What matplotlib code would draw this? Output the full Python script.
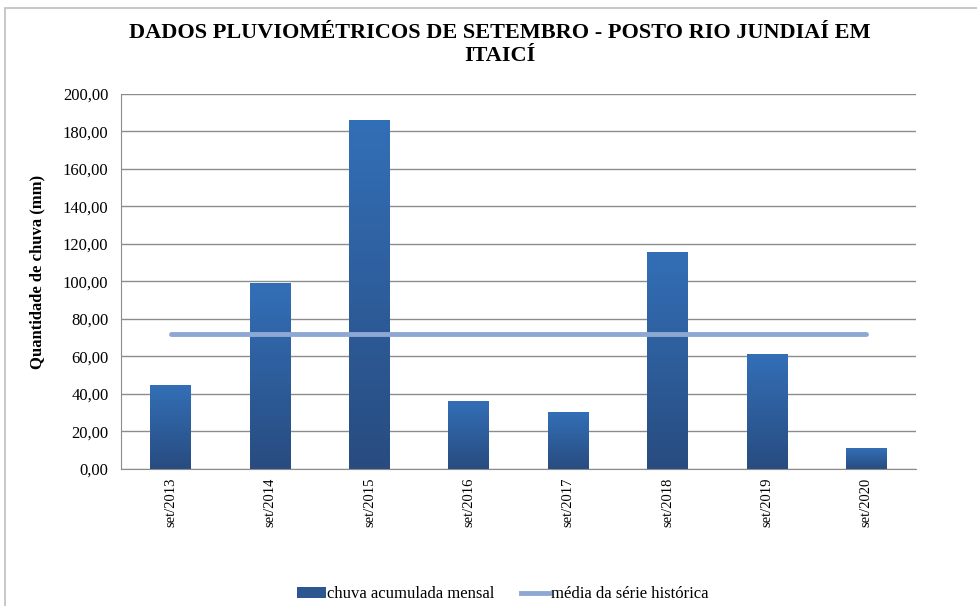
import numpy as np
import matplotlib.pyplot as plt
from matplotlib.patches import Rectangle
from matplotlib.lines import Line2D

plt.rcParams['font.family'] = ['Liberation Serif', 'DejaVu Serif']

# chuva acumulada em setembro (mm)
categorias = ['set/2013', 'set/2014', 'set/2015', 'set/2016',
              'set/2017', 'set/2018', 'set/2019', 'set/2020']
chuva = [44.8, 99.2, 186.1, 36.3, 30.4, 115.7, 61.3, 11.2]
media_historica = 71.8
yticks = np.arange(0, 201, 20)

fig = plt.figure(figsize=(9.77, 6.06), dpi=100)
ax = fig.add_axes([0.1238, 0.2261, 0.8137, 0.6188])

# outer chart frame (partly cropped in the original)
fig.patches.append(Rectangle((5 / 977, -0.1), 1.2, 1.1 - 8 / 606, transform=fig.transFigure,
                             fill=False, edgecolor='#bfbfbf', linewidth=1.2))

x = np.arange(len(categorias))
bars = ax.bar(x, chuva, width=0.41, color='#2f5f9e', zorder=2)

# vertical gradient like the Excel fill: darker at the bottom
grad = np.linspace(0, 1, 256).reshape(-1, 1)
cmap = plt.matplotlib.colors.LinearSegmentedColormap.from_list('g', ['#284c80', '#336fb7'])
for b in bars:
    b.set_facecolor('none')
    bx = b.get_x()
    im = ax.imshow(grad, cmap=cmap, origin='lower', aspect='auto', zorder=2,
                   extent=[bx, bx + b.get_width(), 0, b.get_height()])
    im.set_clip_path(b)

ax.plot([x[0], x[-1]], [media_historica, media_historica], color='#8ea8d4',
        linewidth=3.5, solid_capstyle='round', zorder=3)

ax.set_xlim(-0.5, len(categorias) - 0.5)
ax.set_ylim(0, 200)
ax.set_yticks(yticks)
ax.set_yticklabels([f'{v:.2f}'.replace('.', ',') for v in yticks], fontsize=12)
ax.set_xticks(x)
ax.set_xticklabels(categorias, rotation=90, fontsize=10.5)
ax.tick_params(axis='x', length=0, pad=6)
ax.tick_params(axis='y', length=0, pad=9)
ax.grid(axis='y', color='#8c8c8c', linewidth=1, zorder=0)
ax.set_axisbelow(True)
for s in ['top', 'right']:
    ax.spines[s].set_visible(False)
for s in ['left', 'bottom']:
    ax.spines[s].set_color('#8c8c8c')
ax.set_ylabel('Quantidade de chuva (mm)', fontsize=12, fontweight='bold')
ax.yaxis.set_label_coords(-0.095, 0.525)

fig.text(0.512, 0.962, 'DADOS PLUVIOMÉTRICOS DE SETEMBRO - POSTO RIO JUNDIAÍ EM\nITAICÍ',
         ha='center', va='top', fontsize=16, fontweight='bold', linespacing=1.2)

handles = [Rectangle((0, 0), 1, 1, facecolor='#2c5791'),
           Line2D([0], [0], color='#8ea8d4', linewidth=3.5)]
fig.legend(handles, ['chuva acumulada mensal', 'média da série histórica'],
           loc='center', bbox_to_anchor=(0.515, 0.019), ncol=2, frameon=False,
           fontsize=12, handlelength=1.7, handleheight=0.6, handletextpad=0.1,
           columnspacing=1.6)

fig.savefig('out.png', dpi=100)
